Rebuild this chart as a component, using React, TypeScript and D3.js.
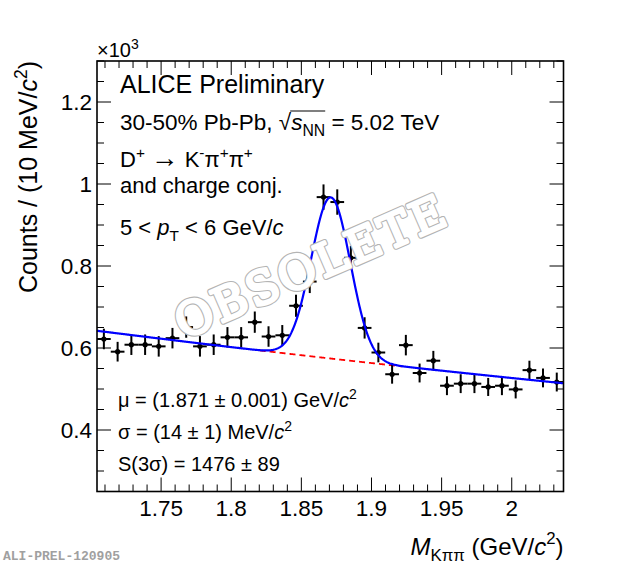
// D+ invariant mass spectrum with Gaussian + background fit
import React, { useEffect, useRef } from 'react';
import * as d3 from 'd3';

// bin centres (GeV/c^2)
const binCenters = [
  1.7092, 1.7190, 1.7288, 1.7386, 1.7483, 1.7581, 1.7679, 1.7777, 1.7875, 1.7973,
  1.8071, 1.8168, 1.8266, 1.8364, 1.8462, 1.8560, 1.8658, 1.8756, 1.8853, 1.8951,
  1.9049, 1.9147, 1.9245, 1.9343, 1.9441, 1.9538, 1.9636, 1.9734, 1.9832, 1.9930,
  2.0028, 2.0126, 2.0223, 2.0321,
];
// counts (x10^3)
const counts = [
  0.622, 0.591, 0.608, 0.608, 0.604, 0.624, 0.651, 0.604, 0.608, 0.626,
  0.626, 0.663, 0.628, 0.631, 0.703, 0.762, 0.968, 0.956, 0.820, 0.649,
  0.589, 0.536, 0.607, 0.539, 0.569, 0.508, 0.513, 0.513, 0.505, 0.508,
  0.499, 0.546, 0.527, 0.517,
];
const countErrors = [
  0.025, 0.024, 0.025, 0.025, 0.025, 0.025, 0.026, 0.025, 0.025, 0.025,
  0.025, 0.026, 0.025, 0.025, 0.027, 0.028, 0.031, 0.031, 0.029, 0.026,
  0.024, 0.023, 0.025, 0.023, 0.024, 0.023, 0.023, 0.023, 0.022, 0.023,
  0.022, 0.023, 0.023, 0.023,
];
const binHalfWidth = 0.00489;

const xTickValues = [1.75, 1.8, 1.85, 1.9, 1.95, 2.0];
const xTickLabels = ['1.75', '1.8', '1.85', '1.9', '1.95', '2'];
const yTickValues = [0.4, 0.6, 0.8, 1.0, 1.2];
const yTickLabels = ['0.4', '0.6', '0.8', '1', '1.2'];

// fit result
const fitMean = 1.871;
const fitSigma = 0.014;
const fitAmplitude = 0.393;
const bkgConst = 0.6965;
const bkgSlope = -0.6687;

const xMin = 1.7043;
const xMax = 2.0369;
const yMin = 0.25;
const yMax = 1.3;

const FONT = '"Liberation Sans", Arial, Helvetica, sans-serif';

type Part = { t: string; italic?: boolean; sup?: boolean; sub?: boolean; scale?: number };

function richText(
  parent: d3.Selection<any, unknown, null, undefined>,
  x: number,
  y: number,
  size: number,
  parts: Part[],
  anchor = 'start',
  transform?: string,
) {
  const text = parent.append('text')
    .attr('x', x)
    .attr('y', y)
    .attr('text-anchor', anchor)
    .style('font-family', FONT)
    .style('font-size', `${size}px`)
    .attr('fill', '#000');
  if (transform) text.attr('transform', transform);
  let shift = 0;
  parts.forEach(p => {
    const target = p.sup ? -0.42 * size : p.sub ? 0.25 * size : 0;
    const ts = text.append('tspan').text(p.t);
    if (target !== shift) {
      ts.attr('dy', target - shift);
      shift = target;
    }
    if (p.sup || p.sub) ts.style('font-size', `${size * 0.7}px`);
    if (p.scale) ts.style('font-size', `${size * p.scale}px`);
    if (p.italic) ts.style('font-style', 'italic');
  });
  return text;
}

const App: React.FC = () => {
  const ref = useRef<SVGSVGElement>(null);

  useEffect(() => {
    if (!ref.current) return;
    const svg = d3.select(ref.current);
    svg.selectAll('*').remove();

    const width = 620;
    const height = 564;
    const margin = { top: 61, right: 56.5, bottom: 72.5, left: 97 };
    const plotW = width - margin.left - margin.right;
    const plotH = height - margin.top - margin.bottom;

    svg.attr('width', width).attr('height', height);
    svg.append('rect').attr('width', width).attr('height', height).attr('fill', '#fff');

    const g = svg.append('g').attr('transform', `translate(${margin.left},${margin.top})`);

    const x = d3.scaleLinear().domain([xMin, xMax]).range([0, plotW]);
    const y = d3.scaleLinear().domain([yMin, yMax]).range([plotH, 0]);

    // ticks on all four sides
    const xMinor = d3.range(1.71, 2.035, 0.01);
    const yMinor = d3.range(0.25, 1.301, 0.05);
    const tickG = g.append('g').attr('stroke', '#000').attr('stroke-width', 1);
    const isMajorX = (v: number) => xTickValues.some(t => Math.abs(t - v) < 1e-6);
    const isMajorY = (v: number) => yTickValues.some(t => Math.abs(t - v) < 1e-6);
    xMinor.forEach(v => {
      const len = isMajorX(v) ? 14 : 7;
      tickG.append('line').attr('x1', x(v)).attr('x2', x(v)).attr('y1', plotH).attr('y2', plotH - len);
      tickG.append('line').attr('x1', x(v)).attr('x2', x(v)).attr('y1', 0).attr('y2', len);
    });
    yMinor.forEach(v => {
      const len = isMajorY(v) ? 14 : 7;
      tickG.append('line').attr('y1', y(v)).attr('y2', y(v)).attr('x1', 0).attr('x2', len);
      tickG.append('line').attr('y1', y(v)).attr('y2', y(v)).attr('x1', plotW).attr('x2', plotW - len);
    });

    // tick labels
    xTickValues.forEach((v, i) => {
      g.append('text')
        .attr('x', x(v))
        .attr('y', plotH + 24)
        .attr('text-anchor', 'middle')
        .style('font-family', FONT)
        .style('font-size', '22.5px')
        .text(xTickLabels[i]);
    });
    yTickValues.forEach((v, i) => {
      g.append('text')
        .attr('x', -5)
        .attr('y', y(v) + 8)
        .attr('text-anchor', 'end')
        .style('font-family', FONT)
        .style('font-size', '22.5px')
        .text(yTickLabels[i]);
    });

    // background (dashed) and total fit
    const bkg = (m: number) => Math.exp(bkgConst + bkgSlope * m);
    const total = (m: number) =>
      bkg(m) + fitAmplitude * Math.exp(-0.5 * ((m - fitMean) / fitSigma) ** 2);
    const xs = d3.range(xMin, xMax + 1e-9, 0.0005);

    g.append('path')
      .datum(xs.filter(m => m > 1.82 && m < 1.922))
      .attr('fill', 'none')
      .attr('stroke', '#ff0000')
      .attr('stroke-width', 1.8)
      .attr('stroke-dasharray', '6,4')
      .attr('d', d3.line<number>().x(m => x(m)).y(m => y(bkg(m))));

    // data points
    const pts = g.append('g');
    binCenters.forEach((c, i) => {
      pts.append('line')
        .attr('x1', x(c - binHalfWidth)).attr('x2', x(c + binHalfWidth))
        .attr('y1', y(counts[i])).attr('y2', y(counts[i]))
        .attr('stroke', '#000').attr('stroke-width', 2);
      pts.append('line')
        .attr('x1', x(c)).attr('x2', x(c))
        .attr('y1', y(counts[i] - countErrors[i])).attr('y2', y(counts[i] + countErrors[i]))
        .attr('stroke', '#000').attr('stroke-width', 2);
      pts.append('circle')
        .attr('cx', x(c)).attr('cy', y(counts[i]))
        .attr('r', 2.6).attr('fill', '#000');
    });

    g.append('path')
      .datum(xs)
      .attr('fill', 'none')
      .attr('stroke', '#0000ff')
      .attr('stroke-width', 2.2)
      .attr('d', d3.line<number>().x(m => x(m)).y(m => y(total(m))));

    // frame
    g.append('rect')
      .attr('width', plotW).attr('height', plotH)
      .attr('fill', 'none').attr('stroke', '#000').attr('stroke-width', 1.6);

    // axis titles
    richText(g, plotW, plotH + 63, 24, [
      { t: 'M', italic: true },
      { t: 'Kππ', sub: true },
      { t: ' (GeV/' },
      { t: 'c', italic: true },
      { t: '2', sup: true },
      { t: ')' },
    ], 'end');
    richText(svg, 0, 0, 25, [
      { t: 'Counts / (10 MeV/' },
      { t: 'c', italic: true },
      { t: '2', sup: true },
      { t: ')' },
    ], 'end', `translate(37,${margin.top}) rotate(-90)`);
    richText(g, 0, -4, 20, [{ t: '×10' }, { t: '3', sup: true }]);

    // labels
    richText(g, 23, 32, 25, [{ t: 'ALICE Preliminary' }]);
    const l2 = richText(g, 23, 69, 22.5, [
      { t: '30-50% Pb-Pb, ' },
      { t: '√' },
      { t: 's', italic: true },
      { t: 'NN', sub: true },
      { t: ' = 5.02 TeV' },
    ]);
    const l2node = l2.node() as SVGTextElement;
    const sIdx = '30-50% Pb-Pb, √'.length;
    const endIdx = sIdx + 3;
    const sx = l2node.getStartPositionOfChar(sIdx).x;
    const ex = l2node.getStartPositionOfChar(endIdx).x;
    g.append('line')
      .attr('x1', sx - 1).attr('x2', ex)
      .attr('y1', 69 - 19).attr('y2', 69 - 19)
      .attr('stroke', '#000').attr('stroke-width', 1.1);
    richText(g, 23, 106, 22, [
      { t: 'D' }, { t: '+', sup: true }, { t: ' ' }, { t: '→', scale: 1.25 }, { t: ' K' },
      { t: '-', sup: true }, { t: 'π' }, { t: '+', sup: true }, { t: 'π' }, { t: '+', sup: true },
    ]);
    richText(g, 23, 132, 22, [{ t: 'and charge conj.' }]);
    richText(g, 23, 174, 22, [
      { t: '5 < ' }, { t: 'p', italic: true }, { t: 'T', sub: true },
      { t: ' < 6 GeV/' }, { t: 'c', italic: true },
    ]);
    richText(g, 21, 346, 20, [
      { t: 'μ = (1.871 ± 0.001) GeV/' }, { t: 'c', italic: true }, { t: '2', sup: true },
    ]);
    richText(g, 21, 378, 20, [
      { t: 'σ = (14 ± 1) MeV/' }, { t: 'c', italic: true }, { t: '2', sup: true },
    ]);
    richText(g, 21, 410, 20, [{ t: 'S(3σ) = 1476 ± 89' }]);

    // watermark: gray ring drawn under a white stroke gives outlined bold letters
    const mark = (stroke: string, sw: number) =>
      svg.append('text')
        .attr('transform', 'translate(310,267) rotate(-23.5)')
        .attr('x', 0)
        .attr('y', 0)
        .attr('text-anchor', 'middle')
        .attr('dominant-baseline', 'central')
        .attr('textLength', 290)
        .attr('lengthAdjust', 'spacing')
        .style('font-family', '"DejaVu Serif", "Liberation Serif", serif')
        .style('font-size', '46px')
        .attr('fill', '#fff')
        .attr('stroke', stroke)
        .attr('stroke-width', sw)
        .attr('stroke-linejoin', 'round')
        .text('OBSOLETE');
    mark('#b4b4b4', 5.2);
    mark('#fff', 3.0);

    svg.append('text')
      .attr('x', 3)
      .attr('y', 560)
      .style('font-family', '"Liberation Mono", "Courier New", monospace')
      .style('font-weight', 'bold')
      .style('font-size', '13px')
      .attr('fill', '#a0a0a0')
      .text('ALI-PREL-120905');
  }, []);

  return (
    <div style={{ position: 'absolute', left: 0, top: 0 }}>
      <svg ref={ref} style={{ display: 'block' }}></svg>
    </div>
  );
};

export default App;
